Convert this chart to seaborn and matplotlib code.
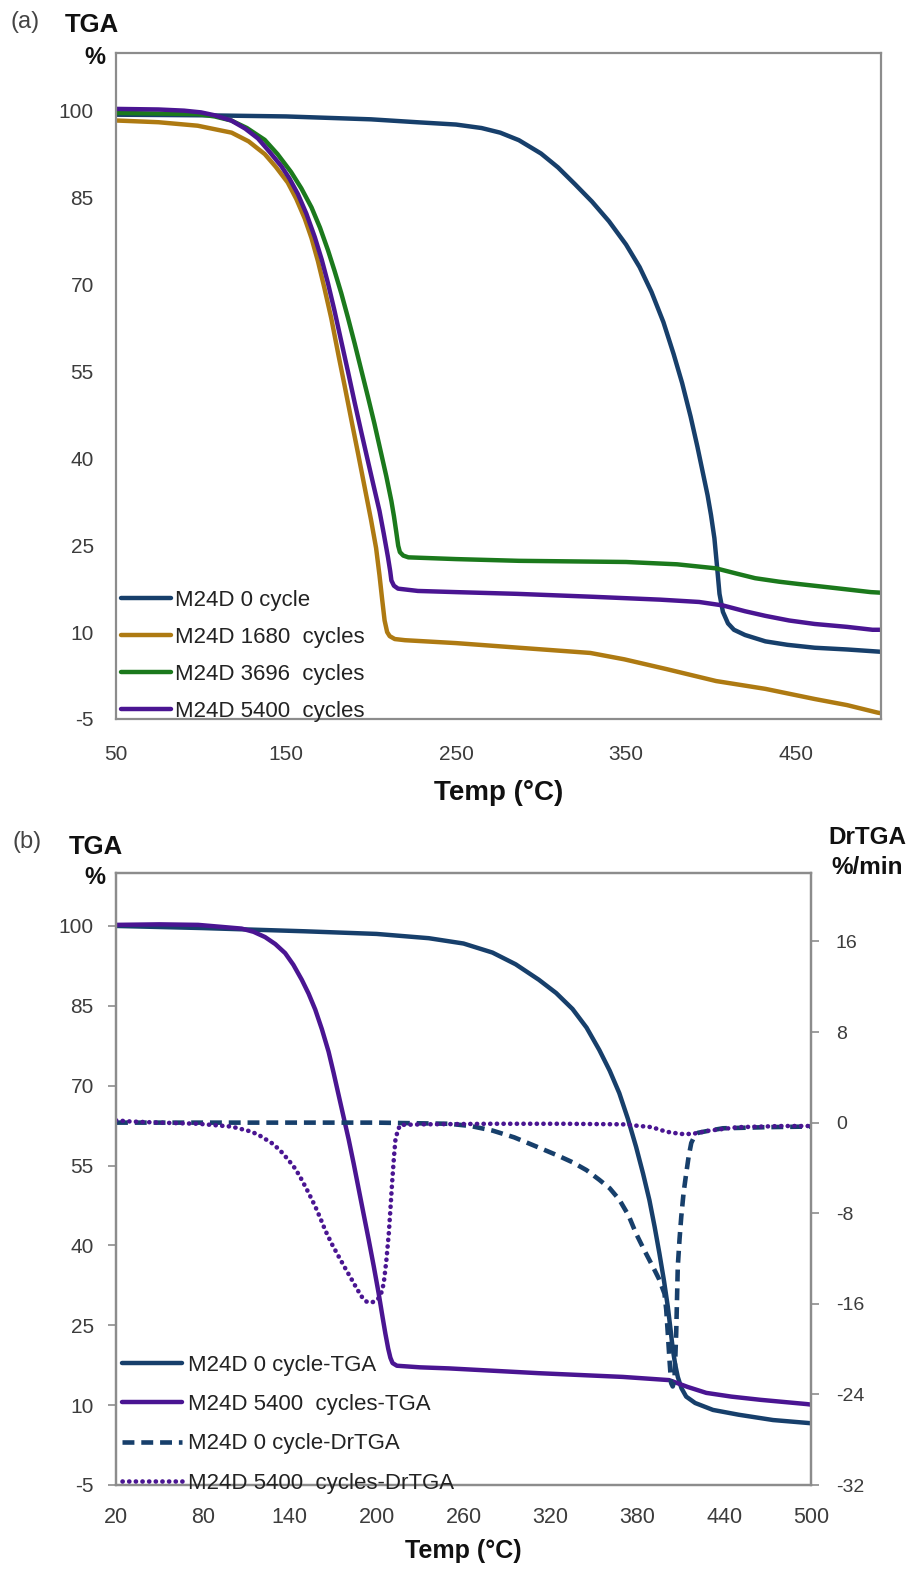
import numpy as np
import pandas as pd
import matplotlib
matplotlib.use("Agg")
import matplotlib.pyplot as plt
from matplotlib.lines import Line2D
import seaborn as sns

# ---------------- data: panel (a) ----------------
T_0a = [50, 100, 150, 200, 227, 250, 265, 276, 287, 300, 310, 320, 330, 340, 350, 358, 365, 372, 378,
        383, 388, 392, 395, 398, 400, 402, 403.5, 405, 407, 410, 413.5, 420, 432, 445, 461, 480, 500]
W_0a = [99.3, 99.2, 99.0, 98.5, 98.0, 97.6, 97.0, 96.2, 94.9, 92.6, 90.2, 87.3, 84.3, 80.9, 76.9, 73.0, 68.7, 63.5, 58.0,
        53.0, 47.2, 42.0, 37.8, 33.6, 30.2, 26.2, 21.5, 16.6, 13.5, 11.5, 10.4, 9.5, 8.4, 7.8, 7.3, 7.0, 6.6]

T_1680a = [50, 75, 98, 118, 128, 137.5, 144, 151, 156, 161, 165, 168.8, 172.5, 176.6, 181, 184.5, 189,
           192.4, 196, 200, 203, 205, 206.5, 208, 209.5, 211, 214, 220, 250, 287, 329, 349, 374, 403,
           432, 461, 480, 498, 500]
W_1680a = [98.3, 98.0, 97.4, 96.2, 94.7, 92.5, 90.3, 87.6, 84.8, 81.4, 78.0, 74.0, 69.5, 64.2, 57.6, 52.5, 45.8,
           40.8, 35.4, 29.4, 24.5, 19.8, 15.8, 12.0, 10.0, 9.3, 8.8, 8.6, 8.1, 7.3, 6.4, 5.3, 3.6, 1.55,
           0.2, -1.55, -2.6, -3.9, -4.0]

T_3696a = [50, 75, 98, 108, 117.8, 127, 137.5, 145, 153, 159, 165, 170, 174.7, 178.5, 182.5, 186.5, 190.4,
           194.3, 198.2, 202, 206, 209, 212, 213.5, 214.9, 216, 217, 219, 222, 250, 287, 350, 380, 403,
           415, 426, 440, 451.5, 470, 494, 500]
W_3696a = [99.6, 99.5, 99.4, 99.0, 98.3, 97.0, 94.95, 92.5, 89.4, 86.6, 83.3, 79.8, 75.9, 72.4, 68.5, 64.2, 59.8,
           55.2, 50.6, 46.0, 40.8, 36.9, 32.6, 30.0, 27.2, 24.9, 23.8, 23.2, 22.9, 22.6, 22.3, 22.1, 21.7, 21.0,
           20.1, 19.3, 18.7, 18.3, 17.7, 16.9, 16.8]

T_5400a = [50, 75, 90, 100, 108, 117.8, 126, 133.5, 140, 147.3, 152, 157, 162, 166.9, 171, 174.7, 178.5, 182.5,
           186.5, 190.4, 194.3, 198.2, 201.5, 205, 207.5, 210, 211.3, 212, 213.5, 215.9, 227.6, 250, 286,
           330, 370, 393, 407, 420, 432, 446, 461, 480, 495, 500]
W_5400a = [100.3, 100.2, 100.0, 99.7, 99.2, 98.3, 96.9, 95.2, 93.0, 90.4, 88.3, 85.6, 82.2, 78.2, 74.3, 70.2, 65.5, 60.2,
           54.9, 49.6, 44.5, 39.5, 35.3, 30.9, 27.0, 22.9, 20.5, 18.9, 18.0, 17.5, 17.1, 16.9, 16.6,
           16.1, 15.6, 15.2, 14.6, 13.6, 12.8, 12.0, 11.4, 10.9, 10.4, 10.4]

labels_a = ["M24D 0 cycle", "M24D 1680  cycles", "M24D 3696  cycles", "M24D 5400  cycles"]
colors_a = ["#173F6B", "#AE7A12", "#1B791C", "#4A1592"]
xticks_a = [50, 150, 250, 350, 450]
yticks_tga = [-5, 10, 25, 40, 55, 70, 85, 100]

# ---------------- data: panel (b) ----------------
T_0b = [20, 50, 80, 150, 200, 236, 260, 280, 296, 312, 324, 335.3, 345, 353.8, 361, 367.6, 373.5, 379.2,
        384, 388.4, 392, 395.3, 398.5, 401.1, 403, 404.6, 406.3, 408, 410.5, 413.8, 420, 432.3, 450, 473.8, 500]
W_0b = [100.0, 99.8, 99.6, 99.0, 98.5, 97.7, 96.7, 95.0, 92.8, 89.9, 87.4, 84.4, 80.9, 76.7, 72.8, 68.6, 63.8, 58.5,
        53.5, 48.5, 43.5, 38.5, 33.3, 28.5, 24.2, 20.4, 17.5, 15.3, 13.2, 11.6, 10.4, 9.1, 8.2, 7.2, 6.6]

T_5400b = [20, 50, 76.8, 106.8, 115, 123, 130, 136.8, 142.5, 148.3, 153, 157.6, 162.2, 166.8, 170.3, 173.7,
           177.2, 180.7, 184.2, 187.6, 191, 194.5, 198, 201.4, 204, 206, 208, 209.5, 211, 214, 230, 250, 312,
           370, 402, 415, 427.7, 445, 465, 497, 500]
W_5400b = [100.2, 100.3, 100.2, 99.5, 98.9, 97.9, 96.6, 94.9, 92.7, 89.9, 87.3, 84.3, 80.6, 76.4, 72.4, 68.3,
           64.1, 59.9, 55.3, 50.6, 45.9, 41.1, 36.1, 31.0, 26.7, 23.5, 20.6, 18.9, 17.9, 17.4, 17.1, 16.9, 16.0,
           15.3, 14.7, 13.4, 12.3, 11.6, 11.0, 10.2, 10.1]

T_d0 = [20, 100, 200, 250, 265, 280, 295, 312, 325, 335.3, 345, 353.8, 361, 367.6, 374, 379.2, 385, 390.7,
        395, 398.8, 400, 401.1, 402.3, 403.4, 404.5, 405.7, 406.9, 408, 409.2, 410.4, 412, 413.8, 415.5,
        417.3, 419.5, 421.9, 430, 439.2, 470, 497, 500]
D_0 = [0.0, 0.0, 0.0, -0.1, -0.3, -0.7, -1.3, -2.2, -2.9, -3.5, -4.2, -5.05, -5.8, -6.8, -8.2, -9.8, -11.3, -12.7,
       -13.8, -15.1, -16.5, -18.6, -21.0, -23.0, -23.3, -22.7, -18.6, -12.7, -10.3, -8.3, -6.2, -4.5, -3.0,
       -1.8, -1.2, -0.9, -0.7, -0.5, -0.4, -0.35, -0.35]

T_d5400 = [20, 30, 50, 76.8, 99.8, 113.7, 120, 127.5, 133, 139.1, 144, 148.3, 153, 157.6, 161, 164.5, 169,
           173.7, 178.5, 183, 186.5, 189.9, 193, 195.7, 198.5, 201.4, 203.3, 204.9, 206.7, 208.4, 209.6,
           210.7, 212, 213, 214.8, 216.5, 232, 280, 330, 370, 390, 400, 410, 418, 430, 450, 480, 500]
D_5400 = [0.2, 0.1, 0.0, -0.1, -0.35, -0.8, -1.2, -1.8, -2.4, -3.3, -4.1, -5.05, -6.2, -7.4, -8.4, -9.5, -10.7,
          -11.8, -12.9, -13.9, -14.7, -15.4, -15.8, -15.9, -15.8, -15.5, -15.0, -14.2, -12.2, -9.8, -7.5,
          -5.3, -3.0, -1.5, -0.6, -0.2, -0.15, -0.1, -0.1, -0.15, -0.4, -0.8, -1.0, -1.0, -0.7, -0.4, -0.3, -0.3]

labels_b = ["M24D 0 cycle-TGA", "M24D 5400  cycles-TGA", "M24D 0 cycle-DrTGA", "M24D 5400  cycles-DrTGA"]
colors_b = ["#173F6B", "#4A1592"]
xticks_b = [20, 80, 140, 200, 260, 320, 380, 440, 500]
yticks_dr = [-32, -24, -16, -8, 0, 8, 16]

# ---------------- style ----------------
sns.set_theme(style="white")
plt.rcParams['font.family'] = ['Liberation Sans', 'DejaVu Sans']
plt.rcParams['axes.unicode_minus'] = False
SPINE = "#8C8C8C"
TICKC = "#3C3C3C"
LW = 3.2
W, H = 914, 1572
fig = plt.figure(figsize=(W / 100, H / 100), dpi=100)

def fx(px):
    return px / W

def fy(py):
    return 1 - py / H

def style_axes(ax):
    for s in ax.spines.values():
        s.set_color(SPINE)
        s.set_linewidth(1.6)
        s.set_visible(True)
    ax.tick_params(axis='both', direction='out', length=6, width=1.2, color=SPINE,
                   labelcolor=TICKC, labelsize=15)
    ax.grid(False)

# ---------------- panel (a) ----------------
axa = fig.add_axes([fx(116), fy(719), fx(881 - 116), (719 - 52.7) / H])
dfa = pd.concat([
    pd.DataFrame({"T": T_0a, "W": W_0a, "s": labels_a[0]}),
    pd.DataFrame({"T": T_1680a, "W": W_1680a, "s": labels_a[1]}),
    pd.DataFrame({"T": T_3696a, "W": W_3696a, "s": labels_a[2]}),
    pd.DataFrame({"T": T_5400a, "W": W_5400a, "s": labels_a[3]}),
])
sns.lineplot(data=dfa, x="T", y="W", hue="s", hue_order=labels_a, palette=colors_a,
             estimator=None, sort=False, linewidth=LW, legend=False, ax=axa)
axa.set_xlim(50, 500)
axa.set_ylim(-5, 110)
axa.set_xticks(xticks_a)
axa.set_yticks(yticks_tga)
style_axes(axa)
axa.tick_params(axis='y', pad=10)
axa.tick_params(axis='x', pad=13)
axa.set_ylabel("")
axa.set_xlabel("Temp (°C)", fontsize=20, fontweight='bold', color='#111111', labelpad=11)
handles_a = [Line2D([], [], color=c, lw=LW) for c in colors_a]
axa.legend(handles_a, labels_a, loc='lower left', bbox_to_anchor=(0.006, -0.004), frameon=False,
           fontsize=16, handlelength=2.25, handletextpad=0.2, labelspacing=0.72, borderpad=0,
           borderaxespad=0, labelcolor='#222222')

fig.text(fx(11), fy(22), "(a)", fontsize=17, color='#444444', ha='left', va='center')
fig.text(fx(65), fy(25), "TGA", fontsize=18.5, fontweight='bold', color='#111111', ha='left', va='center')
fig.text(fx(105), fy(57), "%", fontsize=17, fontweight='bold', color='#111111', ha='right', va='center')

# ---------------- panel (b) ----------------
axb = fig.add_axes([fx(116), fy(1485), fx(811 - 116), (1485 - 872.7) / H])
axb2 = axb.twinx()
dfb = pd.concat([
    pd.DataFrame({"T": T_0b, "W": W_0b, "s": labels_b[0]}),
    pd.DataFrame({"T": T_5400b, "W": W_5400b, "s": labels_b[1]}),
])
sns.lineplot(data=dfb, x="T", y="W", hue="s", hue_order=labels_b[:2], palette=colors_b,
             estimator=None, sort=False, linewidth=LW, legend=False, ax=axb)
sns.lineplot(x=T_d0, y=D_0, color=colors_b[0], estimator=None, sort=False, linewidth=3.3, ax=axb2)
ln_d0 = axb2.lines[-1]
ln_d0.set_dashes([2.6, 1.5])
ln_d0.set_dash_capstyle('butt')
sns.lineplot(x=T_d5400, y=D_5400, color=colors_b[1], estimator=None, sort=False, linewidth=3.3, ax=axb2)
ln_d5 = axb2.lines[-1]
ln_d5.set_dashes([0.05, 1.4])
ln_d5.set_dash_capstyle('round')

axb.set_xlim(20, 500)
axb.set_ylim(-5, 110)
axb.set_xticks(xticks_b)
axb.set_yticks(yticks_tga)
axb2.set_ylim(-32, 22.07)
axb2.set_yticks(yticks_dr)
style_axes(axb)
style_axes(axb2)
axb.tick_params(axis='y', pad=10)
axb.tick_params(axis='x', pad=10)
axb2.tick_params(axis='y', pad=12, labelsize=14)
axb.set_ylabel("")
axb2.set_ylabel("")
axb.set_xlabel("Temp (°C)", fontsize=18, fontweight='bold', color='#111111', labelpad=8)
for lab in axb.get_xticklabels():
    lab.set_fontsize(15.5)

handles_b = [Line2D([], [], color=colors_b[0], lw=LW),
             Line2D([], [], color=colors_b[1], lw=LW),
             Line2D([], [], color=colors_b[0], lw=3.3, dashes=[2.6, 1.5]),
             Line2D([], [], color=colors_b[1], lw=3.3, dashes=[0.05, 1.4], dash_capstyle='round')]
axb2.legend(handles_b, labels_b, loc='lower left', bbox_to_anchor=(0.008, -0.014), frameon=False,
            fontsize=16, handlelength=2.7, handletextpad=0.3, labelspacing=0.82, borderpad=0,
            borderaxespad=0, labelcolor='#222222')

fig.text(fx(12), fy(842), "(b)", fontsize=17, color='#444444', ha='left', va='center')
fig.text(fx(69), fy(847), "TGA", fontsize=18.5, fontweight='bold', color='#111111', ha='left', va='center')
fig.text(fx(105), fy(877), "%", fontsize=17, fontweight='bold', color='#111111', ha='right', va='center')
fig.text(fx(867), fy(837), "DrTGA", fontsize=17.5, fontweight='bold', color='#111111', ha='center', va='center')
fig.text(fx(867), fy(867), "%/min", fontsize=17.5, fontweight='bold', color='#111111', ha='center', va='center')

fig.savefig("out.png", dpi=100)
